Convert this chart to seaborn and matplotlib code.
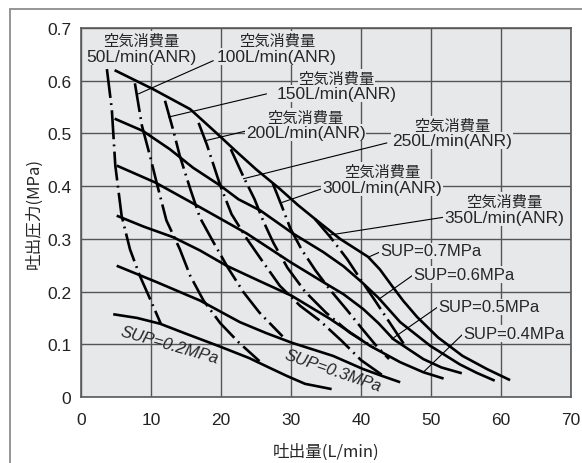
import matplotlib
matplotlib.use("Agg")
import matplotlib.pyplot as plt
from matplotlib.lines import Line2D
import seaborn as sns

# discharge pressure vs discharge flow
# solid curves: supply pressure (SUP)
sup_names = ["0.2", "0.3", "0.4", "0.5", "0.6", "0.7"]

sup02_x = [4.6, 8.0, 11.3, 15.0, 19.6, 24.0, 27.0, 29.4, 32.0, 35.8]
sup02_y = [0.157, 0.150, 0.139, 0.120, 0.097, 0.074, 0.055, 0.040, 0.025, 0.015]

sup03_x = [5.1, 10.8, 17.0, 22.7, 26.5, 30.1, 36.0, 40.3, 43.0, 45.6]
sup03_y = [0.249, 0.218, 0.183, 0.142, 0.121, 0.103, 0.078, 0.053, 0.040, 0.028]

sup04_x = [5.1, 9.0, 13.2, 17.0, 20.8, 25.5, 30.1, 35.6, 41.3, 45.6, 48.9, 51.8]
sup04_y = [0.344, 0.323, 0.303, 0.278, 0.249, 0.220, 0.192, 0.148, 0.097, 0.066, 0.047, 0.035]

sup05_x = [5.1, 10.6, 17.0, 23.7, 29.9, 34.6, 37.5, 40.3, 42.5, 44.6, 48.9, 51.5, 54.4]
sup05_y = [0.439, 0.407, 0.360, 0.310, 0.256, 0.218, 0.195, 0.167, 0.140, 0.110, 0.072, 0.056, 0.045]

sup06_x = [4.8, 8.8, 12.7, 16.0, 19.9, 22.5, 25.6, 30.3, 34.6, 37.5, 40.1, 42.5, 45.6, 49.9, 54.1, 56.5, 59.1]
sup06_y = [0.528, 0.505, 0.470, 0.435, 0.401, 0.375, 0.354, 0.310, 0.275, 0.248, 0.218, 0.188, 0.142, 0.097, 0.062, 0.046, 0.031]

sup07_x = [4.8, 10.3, 15.6, 19.0, 22.0, 25.0, 28.3, 31.0, 33.5, 37.0, 41.0, 42.7, 44.3, 46.0, 48.0, 51.0, 54.5, 58.0, 61.3]
sup07_y = [0.620, 0.584, 0.546, 0.505, 0.468, 0.432, 0.396, 0.364, 0.337, 0.300, 0.266, 0.242, 0.213, 0.183, 0.152, 0.113, 0.078, 0.053, 0.032]

# dash-dot curves: air consumption (L/min ANR)
air_names = ["50", "100", "150", "200", "250", "300", "350"]

air050_x = [3.7, 4.4, 4.9, 5.8, 7.0, 8.4, 10.0, 11.4]
air050_y = [0.622, 0.546, 0.439, 0.344, 0.280, 0.230, 0.182, 0.139]

air100_x = [7.7, 8.7, 9.9, 10.8, 12.2, 14.1, 15.6, 17.5, 19.9, 22.5, 25.5]
air100_y = [0.595, 0.515, 0.455, 0.407, 0.335, 0.281, 0.230, 0.183, 0.140, 0.104, 0.068]

air150_x = [12.0, 13.2, 14.1, 15.6, 17.0, 18.9, 21.0, 23.2, 25.5, 28.8]
air150_y = [0.562, 0.505, 0.458, 0.395, 0.340, 0.294, 0.245, 0.199, 0.160, 0.115]

air200_x = [16.8, 18.0, 19.9, 21.5, 23.7, 26.0, 28.4, 31.3, 34.1, 37.2, 40.0, 43.2]
air200_y = [0.520, 0.478, 0.401, 0.347, 0.300, 0.256, 0.211, 0.173, 0.145, 0.107, 0.070, 0.040]

air250_x = [21.4, 23.2, 24.8, 26.0, 27.5, 29.5, 32.0, 35.0, 38.4, 41.8]
air250_y = [0.470, 0.418, 0.375, 0.335, 0.292, 0.245, 0.200, 0.160, 0.122, 0.094]

air300_x = [27.4, 28.6, 29.9, 31.5, 33.5, 35.6, 38.0, 40.0, 42.0, 44.0]
air300_y = [0.405, 0.365, 0.320, 0.280, 0.240, 0.203, 0.165, 0.132, 0.100, 0.072]

air350_x = [33.4, 35.7, 38.0, 40.0, 42.0, 44.0, 46.5]
air350_y = [0.338, 0.302, 0.262, 0.222, 0.183, 0.143, 0.093]

# label anchors: (x centre, y of japanese line, y of flow line)
air_label_x = [8.6, 28.0, 36.5, 32.1, 53.0, 43.0, 60.4]
air_label_jp_y = [0.676, 0.676, 0.605, 0.531, 0.516, 0.428, 0.372]
air_label_en_y = [0.646, 0.646, 0.576, 0.502, 0.486, 0.398, 0.341]

# leader lines for the air consumption labels: (x0, y0, x1, y1)
air_leaders = [None,
               (18.9, 0.638, 8.2, 0.575),
               (26.5, 0.575, 12.5, 0.531),
               (23.7, 0.505, 17.7, 0.486),
               (43.7, 0.482, 23.2, 0.414),
               (34.4, 0.395, 28.7, 0.369),
               (51.8, 0.341, 35.4, 0.307)]

# SUP labels on the right, with leaders
sup_label_x = [None, None, 54.6, 51.0, 47.4, 42.7]
sup_label_y = [None, None, 0.120, 0.171, 0.233, 0.277]
sup_leaders = [None, None,
               (54.6, 0.120, 48.9, 0.047),
               (51.0, 0.171, 44.4, 0.110),
               (47.4, 0.231, 42.5, 0.185),
               (42.7, 0.275, 41.0, 0.265)]

x_ticks = [0, 10, 20, 30, 40, 50, 60, 70]
y_ticks = [0, 0.1, 0.2, 0.3, 0.4, 0.5, 0.6, 0.7]
y_tick_labels = ["0", "0.1", "0.2", "0.3", "0.4", "0.5", "0.6", "0.7"]

sns.set_style("ticks")
plt.rcParams["font.family"] = ["Liberation Sans", "Noto Sans CJK JP"]

bg = "#e7e8e9"
W, H = 582, 464
fig = plt.figure(figsize=(W / 100, H / 100), dpi=100)
ax = fig.add_axes([81 / W, 1 - 398 / H, 490 / W, 369 / H])
ax.set_facecolor(bg)

# outer frame of the figure (cut by the image edge)
fig.add_artist(Line2D([10 / W, 10 / W], [0, 1 - 10 / H], transform=fig.transFigure, color="#8c8c8c", lw=1.3))
fig.add_artist(Line2D([10 / W, 1], [1 - 10 / H, 1 - 10 / H], transform=fig.transFigure, color="#8c8c8c", lw=1.3))

sup_x = [sup02_x, sup03_x, sup04_x, sup05_x, sup06_x, sup07_x]
sup_y = [sup02_y, sup03_y, sup04_y, sup05_y, sup06_y, sup07_y]
for xs, ys in zip(sup_x, sup_y):
    sns.lineplot(x=xs, y=ys, sort=False, estimator=None, color="black", lw=1.9,
                 solid_capstyle="butt", ax=ax, zorder=3)

air_x = [air050_x, air100_x, air150_x, air200_x, air250_x, air300_x, air350_x]
air_y = [air050_y, air100_y, air150_y, air200_y, air250_y, air300_y, air350_y]
for xs, ys in zip(air_x, air_y):
    sns.lineplot(x=xs, y=ys, sort=False, estimator=None, color="black", lw=1.9,
                 linestyle=(0, (11, 2.0, 0.7, 2.0)), dash_capstyle="butt", ax=ax, zorder=3)

box = dict(facecolor=bg, edgecolor="none", pad=0.6)
for name, lx, yj, ye, ld in zip(air_names, air_label_x, air_label_jp_y, air_label_en_y, air_leaders):
    if ld is not None:
        ax.plot([ld[0], ld[2]], [ld[1], ld[3]], color="black", lw=0.8, zorder=4)
    ax.text(lx, yj, "空気消費量", ha="center", va="center", fontsize=11,
            family="Noto Sans CJK JP", bbox=box, zorder=5)
    ax.text(lx, ye, f"{name}L/min(ANR)", ha="center", va="center", fontsize=12.5,
            bbox=box, zorder=5)

for name, lx, ly, ld in zip(sup_names, sup_label_x, sup_label_y, sup_leaders):
    if lx is None:
        continue
    ax.plot([ld[0], ld[2]], [ld[1], ld[3]], color="black", lw=0.8, zorder=4)
    ax.text(lx, ly, f"SUP={name}MPa", ha="left", va="center", fontsize=12,
            bbox=box, zorder=5)

ax.text(12.6, 0.100, "SUP=0.2MPa", ha="center", va="center", fontsize=12,
        style="italic", rotation=-16, zorder=5)
ax.text(36.0, 0.050, "SUP=0.3MPa", ha="center", va="center", fontsize=12,
        style="italic", rotation=-19, zorder=5)

ax.set_xlim(0, 70)
ax.set_ylim(0, 0.7)
ax.set_xticks(x_ticks)
ax.set_yticks(y_ticks)
ax.set_yticklabels(y_tick_labels)
ax.tick_params(length=0, labelsize=12.5, colors="#222222", pad=7)
ax.tick_params(axis="x", pad=11)
ax.grid(True, color="#555555", lw=1.0, zorder=0)
ax.set_axisbelow(True)
for sp in ax.spines.values():
    sp.set_visible(True)
    sp.set_color("#5a5a5a")
    sp.set_linewidth(1.2)

ax.set_xlabel("吐出量(L/min)", fontsize=12, family="Noto Sans CJK JP", labelpad=11)
ax.set_ylabel("吐出圧力(MPa)", fontsize=12, family="Noto Sans CJK JP", labelpad=3)

fig.savefig("out.png", dpi=100)
